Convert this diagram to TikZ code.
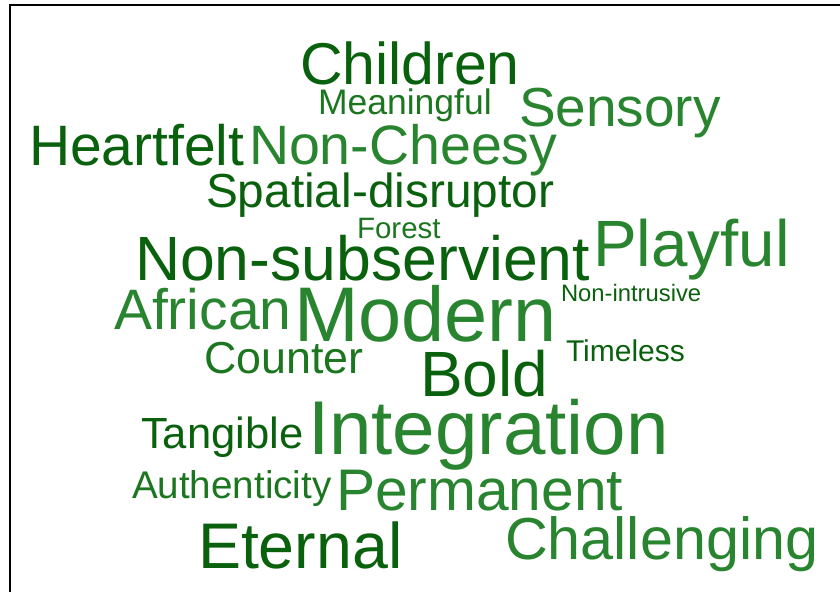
\documentclass[tikz,border=0pt]{standalone}
\usepackage{fontspec}
\setmainfont{Liberation Sans}
\definecolor{dkgreen}{HTML}{0A610D}
\definecolor{midgreen}{HTML}{1C7620}
\definecolor{ltgreen}{HTML}{28842E}
\tikzset{
  word/.style={anchor=base west, inner sep=0pt, outer sep=0pt},
  frameline/.style={draw=black, line width=2pt}
}
\newcommand{\fs}[1]{\fontsize{#1}{#1}\selectfont}
\begin{document}
\begin{tikzpicture}[x=1pt,y=-1pt]
\useasboundingbox (0,0) rectangle (840,592);
\coordinate (tl) at (10,5);
\coordinate (tr) at (840,5);
\coordinate (bl) at (10,592);
\draw[frameline] (tr) -- (tl) -- (bl);
\node[word, text=dkgreen]  (children)  at (300,84)  {\fs{59}Children};
\node[word, text=midgreen] (meaning)   at (318,114) {\fs{35.5}Meaningful};
\node[word, text=ltgreen]  (sensory)   at (519,126) {\fs{55}Sensory};
\node[word, text=dkgreen]  (heartfelt) at (29,165)  {\fs{57}Heartfelt};
\node[word, text=ltgreen]  (cheesy)    at (249,164) {\fs{55.5}Non-Cheesy};
\node[word, text=dkgreen]  (spatial)   at (206,207) {\fs{47.8}Spatial-disruptor};
\node[word, text=midgreen] (forest)    at (357,238) {\fs{29.5}Forest};
\node[word, text=dkgreen]  (nonsub)    at (135,280) {\fs{62.5}Non-subservient};
\node[word, text=ltgreen]  (playful)   at (593,266) {\fs{65.5}Playful};
\node[word, text=dkgreen]  (nonint)    at (561,301) {\fs{23.8}Non-intrusive};
\node[word, text=ltgreen]  (african)   at (114,329) {\fs{57}African};
\node[word, text=ltgreen]  (modern)    at (294,341) {\fs{77.5}Modern};
\node[word, text=midgreen] (counter)   at (204,373) {\fs{44.8}Counter};
\node[word, text=dkgreen]  (timeless)  at (566,361) {\fs{30}Timeless};
\node[word, text=dkgreen]  (bold)      at (420,396) {\fs{64}Bold};
\node[word, text=dkgreen]  (tangible)  at (141,448) {\fs{43.6}Tangible};
\node[word, text=ltgreen]  (integ)     at (308,454) {\fs{76.3}Integration};
\node[word, text=midgreen] (authen)    at (132,498) {\fs{38.6}Authenticity};
\node[word, text=ltgreen]  (perm)      at (336,510) {\fs{58.7}Permanent};
\node[word, text=dkgreen]  (eternal)   at (198,568) {\fs{64.5}Eternal};
\node[word, text=ltgreen]  (chall)     at (505,559) {\fs{59.3}Challenging};
\end{tikzpicture}
\end{document}
